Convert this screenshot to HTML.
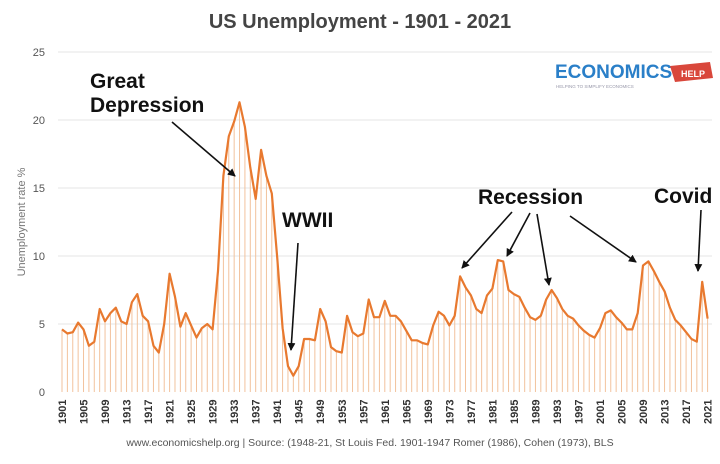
<!DOCTYPE html>
<html><head><meta charset="utf-8"><style>
body{margin:0;background:#fff;width:720px;height:459px;overflow:hidden;font-family:"Liberation Sans",sans-serif}
</style></head><body>
<svg id="s" width="720" height="459" xmlns="http://www.w3.org/2000/svg" font-family="Liberation Sans, sans-serif">
<defs><marker id="a" markerWidth="8" markerHeight="8" refX="7" refY="4" orient="auto" markerUnits="userSpaceOnUse"><path d="M0,0 L8,4 L0,8 z" fill="#111"/></marker></defs>
<text x="360" y="28" text-anchor="middle" font-size="20" font-weight="bold" fill="#444">US Unemployment - 1901 - 2021</text>
<g id="grid"></g><g id="bars"></g><polyline id="ln" fill="none" stroke="#e8792f" stroke-width="2.2" stroke-linejoin="round"/>
<g id="xl" font-size="11" font-weight="bold" fill="#333"></g>
<g font-size="11" fill="#555" text-anchor="end"><text x="45" y="396">0</text><text x="45" y="328">5</text><text x="45" y="260">10</text><text x="45" y="192">15</text><text x="45" y="124">20</text><text x="45" y="56">25</text></g>
<text transform="translate(25,222) rotate(-90)" text-anchor="middle" font-size="11" fill="#777">Unemployment rate %</text>
<text x="555" y="78" font-size="19" font-weight="900" fill="#2a7fc8">ECONOMICS</text>
<path d="M670,66 L710,62 L713,78 L675,82 Z" fill="#d9473b"/><text x="681" y="77" font-size="9" font-weight="bold" fill="#fff">HELP</text>
<text x="556" y="88" font-size="4.5" fill="#99a">HELPING TO SIMPLIFY ECONOMICS</text>
<g font-size="21" font-weight="bold" fill="#111"><text x="90" y="88">Great</text><text x="90" y="112">Depression</text><text x="282" y="227">WWII</text><text x="478" y="204">Recession</text><text x="654" y="203">Covid</text></g>
<g stroke="#111" stroke-width="1.6" marker-end="url(#a)">
<line x1="172" y1="122" x2="235" y2="176"/><line x1="298" y1="243" x2="291" y2="350"/>
<line x1="512" y1="212" x2="462" y2="268"/><line x1="530" y1="213" x2="507" y2="256"/><line x1="537" y1="214" x2="549" y2="285"/><line x1="570" y1="216" x2="636" y2="262"/><line x1="701" y1="210" x2="698" y2="271"/>
</g>
<text x="370" y="446" text-anchor="middle" font-size="10.5" fill="#555">www.economicshelp.org  |  Source: (1948-21, St Louis Fed. 1901-1947 Romer (1986), Cohen (1973), BLS</text>
</svg>
<script>
var d=[4.6,4.3,4.4,5.1,4.6,3.4,3.7,6.1,5.2,5.8,6.2,5.2,5.0,6.6,7.2,5.6,5.2,3.4,2.9,5.0,8.7,7.0,4.8,5.8,4.9,4.0,4.7,5.0,4.6,8.9,15.9,18.8,19.9,21.3,19.5,16.5,14.2,17.8,15.9,14.6,9.9,4.7,1.9,1.2,1.9,3.9,3.9,3.8,6.1,5.2,3.3,3.0,2.9,5.6,4.4,4.1,4.3,6.8,5.5,5.5,6.7,5.6,5.6,5.2,4.5,3.8,3.8,3.6,3.5,4.9,5.9,5.6,4.9,5.6,8.5,7.7,7.1,6.1,5.8,7.1,7.6,9.7,9.6,7.5,7.2,7.0,6.2,5.5,5.3,5.6,6.8,7.5,6.9,6.1,5.6,5.4,4.9,4.5,4.2,4.0,4.7,5.8,6.0,5.5,5.1,4.6,4.6,5.8,9.3,9.6,8.9,8.1,7.4,6.2,5.3,4.9,4.4,3.9,3.7,8.1,5.4];
var ns="http://www.w3.org/2000/svg",X=i=>62+i*5.38,Y=v=>392-v*13.6,g=document.getElementById('grid'),b=document.getElementById('bars'),xl=document.getElementById('xl'),pts=[];
for(var k=1;k<=5;k++){var l=document.createElementNS(ns,'line');l.setAttribute('x1',58);l.setAttribute('x2',712);l.setAttribute('y1',Y(k*5));l.setAttribute('y2',Y(k*5));l.setAttribute('stroke','#e6e6e6');g.appendChild(l);}
d.forEach(function(v,i){var l=document.createElementNS(ns,'line');l.setAttribute('x1',X(i));l.setAttribute('x2',X(i));l.setAttribute('y1',392);l.setAttribute('y2',Y(v));l.setAttribute('stroke','#f2c29d');l.setAttribute('stroke-width',1);b.appendChild(l);pts.push(X(i).toFixed(1)+','+Y(v).toFixed(1));
if(i%4==0){var t=document.createElementNS(ns,'text');t.setAttribute('transform','translate('+(X(i)+4)+',424) rotate(-90)');t.textContent=1901+i;xl.appendChild(t);}});
document.getElementById('ln').setAttribute('points',pts.join(' '));
</script>
</body></html>
